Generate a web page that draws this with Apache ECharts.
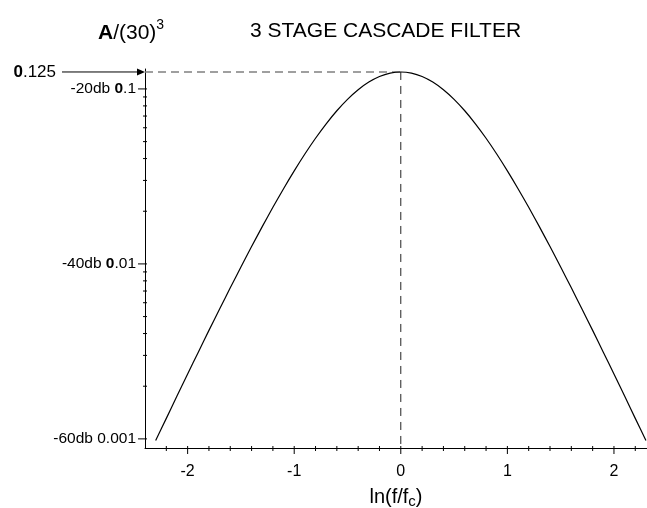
<!DOCTYPE html>
<html>
<head>
<meta charset="utf-8">
<script src="https://cdn.jsdelivr.net/npm/echarts@6/dist/echarts.min.js"></script>
<style>html,body{margin:0;padding:0;background:#fff}#c{width:647px;height:508px}</style>
</head>
<body>
<div id="c"></div>
<script>
// ---- data ----
const xValues = [-2.3,-2.2,-2.1,-2.0,-1.9,-1.8,-1.7,-1.6,-1.5,-1.4,-1.3,-1.2,-1.1,-1.0,-0.9,-0.8,-0.7,-0.6,-0.5,-0.4,-0.3,-0.2,-0.1,
  0.0,0.1,0.2,0.3,0.4,0.5,0.6,0.7,0.8,0.9,1.0,1.1,1.2,1.3,1.4,1.5,1.6,1.7,1.8,1.9,2.0,2.1,2.2,2.3];
const gainValues = [0.000978,0.00131,0.00176,0.00235,0.00313,0.00417,0.00552,0.00730,0.00960,0.01256,0.01633,0.02106,0.02691,0.03402,0.04247,0.05225,0.06321,0.07503,0.08718,0.09893,0.10943,0.11777,0.12314,
  0.125,0.12314,0.11777,0.10943,0.09893,0.08718,0.07503,0.06321,0.05225,0.04247,0.03402,0.02691,0.02106,0.01633,0.01256,0.00960,0.00730,0.00552,0.00417,0.00313,0.00235,0.00176,0.00131,0.000978];
const xMajorTicks = [-2,-1,0,1,2];
const xTickLabels = ['-2','-1','0','1','2'];
const xMinorTicks = [-2.2,-1.8,-1.6,-1.4,-1.2,-0.8,-0.6,-0.4,-0.2,0.2,0.4,0.6,0.8,1.2,1.4,1.6,1.8,2.2];
const yMajorTicks = [0.1,0.01,0.001];
const yTickLabels = [['-20db ','0','.1'],['-40db ','0','.01'],['-60db ','','0.001']];
const yMinorTicks = [0.09,0.08,0.07,0.06,0.05,0.04,0.03,0.02,0.009,0.008,0.007,0.006,0.005,0.004,0.003,0.002];
const peakValue = 0.125;
const peakX = 0;
const xMin = -2.4, xMax = 2.31, yMin = 0.000887, yMax = 0.13;

const FONT = '"Liberation Sans", Arial, sans-serif';
const chart = echarts.init(document.getElementById('c'));

function renderAnno(params, api) {
  const ch = [];
  const axisX = api.coord([xMin, yMax])[0];
  const axisY = api.coord([xMin, yMin])[1];
  const blk = {stroke:'#000', lineWidth:1};
  yMinorTicks.forEach(v => {
    const y = api.coord([xMin, v])[1];
    ch.push({type:'line', shape:{x1:axisX-2,y1:y,x2:axisX+2,y2:y}, style:blk});
  });
  yMajorTicks.forEach((v,i) => {
    const y = api.coord([xMin, v])[1];
    ch.push({type:'line', shape:{x1:axisX-7,y1:y,x2:axisX+2,y2:y}, style:blk});
    const t = yTickLabels[i];
    ch.push({type:'text', x:axisX-9, y:y, style:{
      text:'{n|'+t[0]+'}'+(t[1]?'{b|'+t[1]+'}':'')+'{n|'+t[2]+'}',
      align:'right', verticalAlign:'middle',
      rich:{n:{fontFamily:FONT,fontSize:15.5,fill:'#000'}, b:{fontFamily:FONT,fontSize:15.5,fontWeight:'bold',fill:'#000'}}
    }});
  });
  xMinorTicks.forEach(v => {
    const x = api.coord([v, yMin])[0];
    ch.push({type:'line', shape:{x1:x,y1:axisY-2,x2:x,y2:axisY+3}, style:blk});
  });
  xMajorTicks.forEach((v,i) => {
    const x = api.coord([v, yMin])[0];
    ch.push({type:'line', shape:{x1:x,y1:axisY-2,x2:x,y2:axisY+6}, style:blk});
    ch.push({type:'text', x:x, y:axisY+16, style:{text:xTickLabels[i], align:'center', verticalAlign:'top',
      fontFamily:FONT, fontSize:16, fill:'#000'}});
  });
  const pk = api.coord([peakX, peakValue]);
  // dashed guides
  ch.push({type:'line', shape:{x1:axisX,y1:pk[1],x2:pk[0],y2:pk[1]}, style:{stroke:'#808080',lineWidth:1.3,lineDash:[8,5]}});
  ch.push({type:'line', shape:{x1:pk[0],y1:pk[1],x2:pk[0],y2:axisY}, style:{stroke:'#222',lineWidth:1,lineDash:[8,6]}});
  // arrow
  ch.push({type:'line', shape:{x1:axisX-83,y1:pk[1],x2:axisX-4,y2:pk[1]}, style:blk});
  ch.push({type:'polygon', shape:{points:[[axisX,pk[1]],[axisX-8,pk[1]-3.5],[axisX-8,pk[1]+3.5]]}, style:{fill:'#000'}});
  ch.push({type:'text', x:axisX-89, y:pk[1], style:{
    text:'{b|0}{n|.125}', align:'right', verticalAlign:'middle',
    rich:{n:{fontFamily:FONT,fontSize:17,fill:'#000'}, b:{fontFamily:FONT,fontSize:17,fontWeight:'bold',fill:'#000'}}
  }});
  return {type:'group', children:ch};
}

chart.setOption({
  animation:false,
  backgroundColor:'#fff',
  title:[
    {text:'{a|A}{n|/(30)}{s|3}', left:93, top:13, textStyle:{fontWeight:'normal', rich:{
      a:{fontFamily:FONT,fontSize:21,fontWeight:'bold',color:'#000',verticalAlign:'bottom'},
      n:{fontFamily:FONT,fontSize:21,fontWeight:'normal',color:'#000',verticalAlign:'bottom'},
      s:{fontFamily:FONT,fontSize:14,fontWeight:'normal',color:'#000',verticalAlign:'top',padding:[0,0,12,0]}}}},
    {text:'3 STAGE CASCADE FILTER', left:245, top:16, textStyle:{fontFamily:FONT,fontSize:21,fontWeight:'normal',color:'#000'}}
  ],
  grid:{left:145, right:0, top:69, bottom:60, containLabel:false, outerBoundsMode:'none'},
  xAxis:{type:'value', min:xMin, max:xMax,
    axisLine:{show:true,onZero:false,lineStyle:{color:'#000',width:1}},
    axisTick:{show:false}, axisLabel:{show:false}, splitLine:{show:false},
    name:'{n|ln(f/f}{s|c}{n|)}', nameLocation:'middle', nameGap:37,
    nameTextStyle:{rich:{n:{fontFamily:FONT,fontSize:20,color:'#000'}, s:{fontFamily:FONT,fontSize:15,color:'#000',padding:[9,0,0,0]}}}
  },
  yAxis:{type:'log', logBase:10, min:yMin, max:yMax,
    axisLine:{show:true,onZero:false,lineStyle:{color:'#000',width:1}},
    axisTick:{show:false}, axisLabel:{show:false}, splitLine:{show:false}
  },
  series:[
    {type:'line', data:xValues.map((x,i)=>[x,gainValues[i]]), showSymbol:false, symbol:'none', smooth:0.25,
      lineStyle:{color:'#000',width:1.2}, clip:false, z:3},
    {type:'custom', data:[[peakX,peakValue]], renderItem:renderAnno, clip:false, z:2, silent:true}
  ]
});
</script>
</body>
</html>
